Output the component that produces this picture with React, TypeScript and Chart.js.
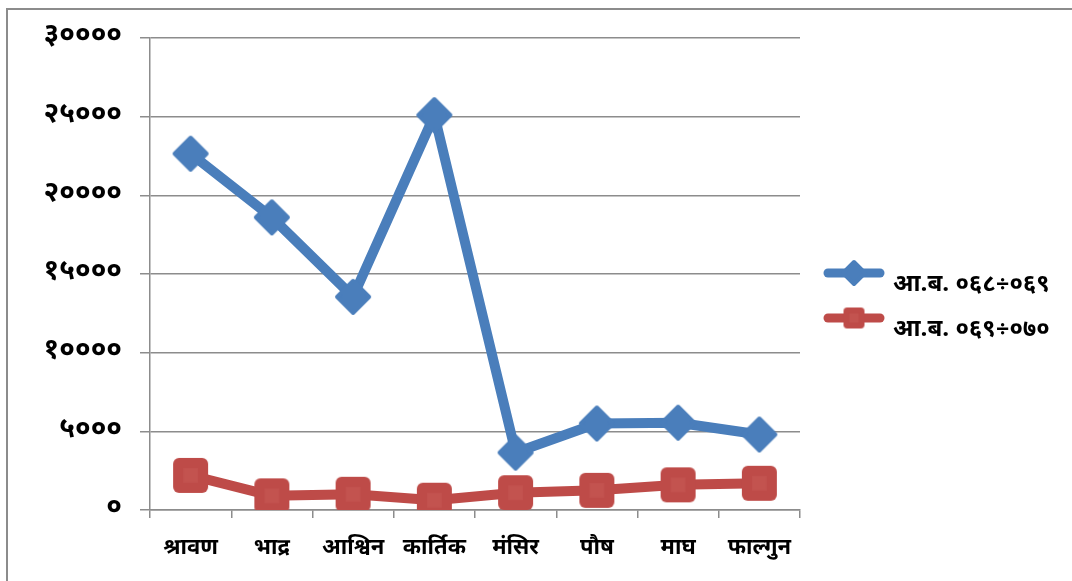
import React, { useEffect, useRef } from "react";
import { Chart, registerables } from "chart.js";

Chart.register(...registerables);

const categories = ["श्रावण", "भाद्र", "आश्विन", "कार्तिक", "मंसिर", "पौष", "माघ", "फाल्गुन"];
const series1Label = "आ.ब. ०६८÷०६९";
const series2Label = "आ.ब. ०६९÷०७०";
const series1 = [22650, 18600, 13550, 25100, 3650, 5500, 5550, 4800];
const series2 = [2200, 900, 1000, 620, 1100, 1250, 1600, 1700];
const yMin = 0;
const yMax = 30000;
const yStep = 5000;

const BLUE = "#4A7EBB";
const RED = "#BE4B48";
const GRID = "#8C8C8C";
const FONT = "'Noto Sans Devanagari', 'Lohit Devanagari', 'Noto Sans', sans-serif";

const devDigits = ["०", "१", "२", "३", "४", "५", "६", "७", "८", "९"];
const toDev = (v: number | string) =>
  String(v).replace(/[0-9]/g, (d) => devDigits[Number(d)]);

function makeDiamond(size: number, color: string) {
  const c = document.createElement("canvas");
  c.width = size;
  c.height = size;
  const g = c.getContext("2d")!;
  const h = size / 2;
  const r = h - 3;
  g.fillStyle = color;
  g.strokeStyle = color;
  g.lineWidth = 4;
  g.lineJoin = "round";
  g.beginPath();
  g.moveTo(h, h - r);
  g.lineTo(h + r, h);
  g.lineTo(h, h + r);
  g.lineTo(h - r, h);
  g.closePath();
  g.fill();
  g.stroke();
  return c;
}

function makeSquare(size: number, color: string, inner: string) {
  const c = document.createElement("canvas");
  c.width = size;
  c.height = size;
  const g = c.getContext("2d")!;
  g.fillStyle = color;
  g.beginPath();
  const rad = Math.max(3, size * 0.16);
  (g as any).roundRect(1, 1, size - 2, size - 2, rad);
  g.fill();
  g.fillStyle = inner;
  const q = size * 0.3;
  g.fillRect(q, q, size - 2 * q, size - 2 * q);
  return c;
}

export default function App() {
  const ref = useRef<HTMLCanvasElement | null>(null);

  useEffect(() => {
    if (!ref.current) return;
    const diamondBig = makeDiamond(38, BLUE);
    const squareBig = makeSquare(37, RED, "#C3534F");
    const diamondSmall = makeDiamond(28, BLUE);
    const squareSmall = makeSquare(23, RED, "#C3534F");

    const legendPlugin = {
      id: "sideLegend",
      afterDraw(chart: any) {
        const ctx = chart.ctx;
        const area = chart.chartArea;
        const x0 = area.right + 28;
        const x1 = x0 + 52;
        const rows = [
          { y: 273, color: BLUE, img: diamondSmall, text: chart.data.datasets[0].label },
          { y: 318, color: RED, img: squareSmall, text: chart.data.datasets[1].label },
        ];
        ctx.save();
        rows.forEach((r) => {
          ctx.strokeStyle = r.color;
          ctx.lineWidth = 9;
          ctx.lineCap = "round";
          ctx.beginPath();
          ctx.moveTo(x0, r.y);
          ctx.lineTo(x1, r.y);
          ctx.stroke();
          ctx.drawImage(r.img, (x0 + x1) / 2 - r.img.width / 2, r.y - r.img.height / 2);
          ctx.fillStyle = "#000";
          ctx.font = `bold 24px ${FONT}`;
          ctx.textBaseline = "middle";
          ctx.textAlign = "left";
          ctx.fillText(r.text, x1 + 13, r.y + 14);
        });
        ctx.restore();
      },
    };

    const chart = new Chart(ref.current, {
      type: "line",
      data: {
        labels: categories,
        datasets: [
          {
            label: series1Label,
            data: series1,
            borderColor: BLUE,
            backgroundColor: BLUE,
            borderWidth: 10,
            borderJoinStyle: "round",
            borderCapStyle: "round",
            tension: 0,
            pointStyle: diamondBig as any,
            pointRadius: 18,
          },
          {
            label: series2Label,
            data: series2,
            borderColor: RED,
            backgroundColor: RED,
            borderWidth: 10,
            borderJoinStyle: "round",
            borderCapStyle: "round",
            tension: 0,
            pointStyle: squareBig as any,
            pointRadius: 18,
          },
        ],
      },
      options: {
        animation: false,
        responsive: true,
        maintainAspectRatio: false,
        layout: { padding: { left: 0, top: 38, right: 272, bottom: 0 } },
        plugins: {
          legend: { display: false },
          tooltip: { enabled: false },
        },
        scales: {
          x: {
            offset: true,
            grid: {
              offset: true,
              drawOnChartArea: false,
              drawTicks: true,
              tickLength: 8,
              color: GRID,
              lineWidth: 1.5,
            },
            border: { display: true, color: GRID, width: 1.5 },
            ticks: {
              color: "#000",
              font: { family: FONT, size: 22, weight: "bold" },
              padding: 19,
              maxRotation: 0,
              autoSkip: false,
            },
            afterFit: (s: any) => {
              s.height = 71;
            },
          },
          y: {
            min: yMin,
            max: yMax,
            grid: { color: GRID, lineWidth: 1.5, tickLength: 10 },
            border: { display: true, color: GRID, width: 1.5 },
            ticks: {
              stepSize: yStep,
              color: "#000",
              font: { family: FONT, size: 28, weight: "bold" },
              padding: 18,
              callback: (v: any) => toDev(v),
            },
            afterFit: (s: any) => {
              s.width = 150;
            },
          },
        },
      },
      plugins: [legendPlugin],
    });
    return () => chart.destroy();
  }, []);

  return (
    <div
      style={{
        position: "fixed",
        left: 0,
        top: 0,
        width: 1072,
        height: 581,
        overflow: "hidden",
        background: "#fff",
      }}
    >
      <div
        style={{
          position: "absolute",
          left: 6,
          top: 8,
          width: 1200,
          height: 700,
          border: "2px solid #8C8C8C",
        }}
      />
      <div style={{ position: "absolute", left: 0, top: 0, width: 1072, height: 581 }}>
        <canvas ref={ref} />
      </div>
    </div>
  );
}
